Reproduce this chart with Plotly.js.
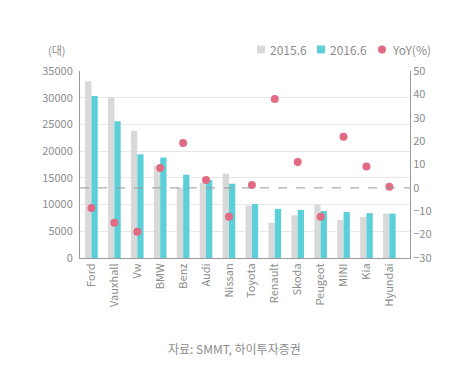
<!DOCTYPE html>
<html><head><meta charset="utf-8">
<script src="https://cdn.plot.ly/plotly-3.0.1.min.js"></script>
<style>html,body{margin:0;padding:0;background:#fff}#c{width:469px;height:375px}</style>
</head><body><div id="c"></div>
<script>
const categories = ["Ford","Vauxhall","Vw","BMW","Benz","Audi","Nissan","Toyota","Renault","Skoda","Peugeot","MINI","Kia","Hyundai"];
const sales2015 = [33100,30100,23800,17200,13200,14100,15800,9800,6600,8000,10000,7100,7700,8300];
const sales2016 = [30300,25600,19400,18800,15600,14600,13900,10100,9200,9000,8800,8600,8400,8300];
const yoy = [-8.6,-14.9,-18.8,8.5,19.2,3.4,-12.4,1.2,38,11.1,-12.4,21.9,9.1,0.5];
const seriesNames = ["2015.6","2016.6","YoY(%)"];
const FONT = "'Noto Sans CJK KR', Lato, sans-serif";
const GRAY = "#8c8c8c";
const COLORS = ['#d9d9d9','#5ccfd9','#e06b82'];

// plot area in px (for converting legend placement)
const L = 80, R = 59, T = 71, B = 117, W = 469, H = 375;
const PW = W - L - R, PH = H - T - B;
const px = v => (v - L) / PW;
const py = v => (H - B - v) / PH;

const data = [
  {type:'bar', name:seriesNames[0], x:categories, y:sales2015, marker:{color:COLORS[0]}},
  {type:'bar', name:seriesNames[1], x:categories, y:sales2016, marker:{color:COLORS[1]}},
  {type:'scatter', mode:'markers', name:seriesNames[2], x:categories, y:yoy, yaxis:'y2',
   marker:{color:COLORS[2], size:8}}
];

// custom compact legend (symbols + labels)
const legendItems = [
  {sym:'rect', x:257, tx:268},
  {sym:'rect', x:317, tx:328},
  {sym:'circle', x:378, tx:390}
];
const legendY = 49.5;
const legendShapes = legendItems.map((it, i) => ({
  type: it.sym, xref:'paper', yref:'paper',
  x0: px(it.x), x1: px(it.x + 8), y0: py(legendY + 4), y1: py(legendY - 4),
  fillcolor: COLORS[i], line:{width:0}
}));
const legendTexts = legendItems.map((it, i) => ({
  text: seriesNames[i], xref:'paper', yref:'paper', x: px(it.tx), y: py(legendY),
  xanchor:'left', yanchor:'middle', showarrow:false, font:{size:12, color:GRAY}
}));

const layout = {
  width:W, height:H,
  margin:{l:L, r:R, t:T, b:B},
  paper_bgcolor:'#fff', plot_bgcolor:'#fff',
  font:{family:FONT, color:GRAY, size:11},
  barmode:'group', bargap:0.45, bargroupgap:0,
  showlegend:false,
  xaxis:{range:[-0.5, 13.9], tickangle:-90, showline:true, linecolor:'#999', linewidth:1, ticks:'',
         tickfont:{size:11, color:GRAY}, showgrid:false},
  yaxis:{range:[0,35000], dtick:5000, tickformat:'d', showline:true, linecolor:'#999', linewidth:1,
         gridcolor:'#e8e8e8', zeroline:false, ticks:'', tickfont:{size:11, color:GRAY},
         ticklabelstandoff:4},
  yaxis2:{range:[-30,50], dtick:10, overlaying:'y', side:'right', showline:true,
          linecolor:'#999', linewidth:1, showgrid:false, zeroline:false, ticks:'',
          tickfont:{size:11, color:GRAY}},
  shapes:[{type:'line', xref:'paper', x0:0, x1:1, yref:'y2', y0:0, y1:0,
           line:{color:'#999', width:1, dash:'dash'}}].concat(legendShapes),
  annotations:[
    {text:'(대)', xref:'paper', yref:'paper', x:px(57), y:py(50), xanchor:'center', yanchor:'middle',
     showarrow:false, font:{size:11, color:GRAY}},
    {text:'자료: SMMT, 하이투자증권', xref:'paper', yref:'paper', x:px(234), y:py(348),
     xanchor:'center', yanchor:'middle', showarrow:false, font:{size:12, color:GRAY}}
  ].concat(legendTexts)
};
Plotly.newPlot('c', data, layout, {displayModeBar:false, staticPlot:true});
</script></body></html>
